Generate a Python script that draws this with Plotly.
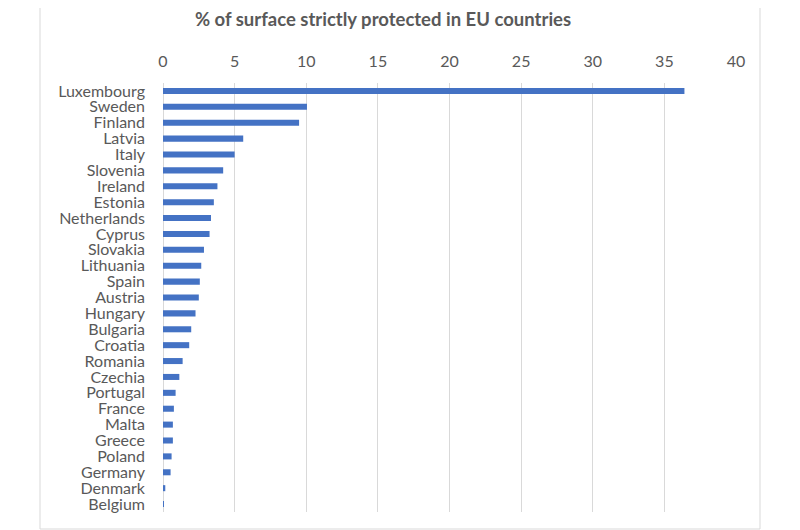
import plotly.graph_objects as go

countries = ["Luxembourg", "Sweden", "Finland", "Latvia", "Italy", "Slovenia", "Ireland",
             "Estonia", "Netherlands", "Cyprus", "Slovakia", "Lithuania", "Spain", "Austria",
             "Hungary", "Bulgaria", "Croatia", "Romania", "Czechia", "Portugal", "France",
             "Malta", "Greece", "Poland", "Germany", "Denmark", "Belgium"]
values = [36.4, 10.05, 9.5, 5.6, 5.0, 4.2, 3.8, 3.55, 3.35, 3.25, 2.86, 2.67, 2.57, 2.5,
          2.27, 1.97, 1.83, 1.37, 1.14, 0.88, 0.76, 0.69, 0.69, 0.6, 0.53, 0.16, 0.03]
x_ticks = [0, 5, 10, 15, 20, 25, 30, 35, 40]

fig = go.Figure(go.Bar(
    x=values, y=countries, orientation="h",
    marker=dict(color="#4472C4", line=dict(width=0)),
    width=0.38,
))

# page body has an 8px offset; compensate so the screen positions match
OFF = 8
L, R, T, B = 163 - OFF, 800 - (736 - OFF), 83 - OFF, 530 - (512 - OFF)
pw, ph = 800 - L - R, 530 - T - B

font_family = "Lato, 'Open Sans', sans-serif"
fig.update_layout(
    width=800, height=530,
    margin=dict(l=L, r=R, t=T, b=B, autoexpand=False),
    paper_bgcolor="white", plot_bgcolor="white",
    showlegend=False,
    title=dict(text="<b>% of surface strictly protected in EU countries</b>",
               x=(383 - OFF) / 800, xanchor="center", y=1 - 12 / 530, yanchor="middle",
               font=dict(family=font_family, size=18.5, color="#595959")),
    xaxis=dict(range=[0, 40], tickvals=x_ticks, side="top", automargin=False,
               showgrid=True, gridcolor="#D9D9D9", gridwidth=1,
               zeroline=True, zerolinecolor="#D9D9D9", zerolinewidth=1,
               showline=False, ticks="", ticklabelstandoff=12,
               tickfont=dict(family=font_family, size=16, color="#595959")),
    yaxis=dict(autorange="reversed", showgrid=False, ticks="", showline=False,
               automargin=False, tickmode="array", tickvals=countries,
               tickfont=dict(family=font_family, size=16, color="#595959"),
               ticklabelstandoff=17),
    bargap=0.6,
    shapes=[dict(type="rect", xref="paper", yref="paper",
                 x0=(40 - 163) / pw, x1=(760 - 163) / pw,
                 y0=-(529 - 512) / ph, y1=(512 - 0) / ph,
                 line=dict(color="#D9D9D9", width=1), fillcolor="rgba(0,0,0,0)",
                 layer="below")],
)

fig.write_html("out.html")
